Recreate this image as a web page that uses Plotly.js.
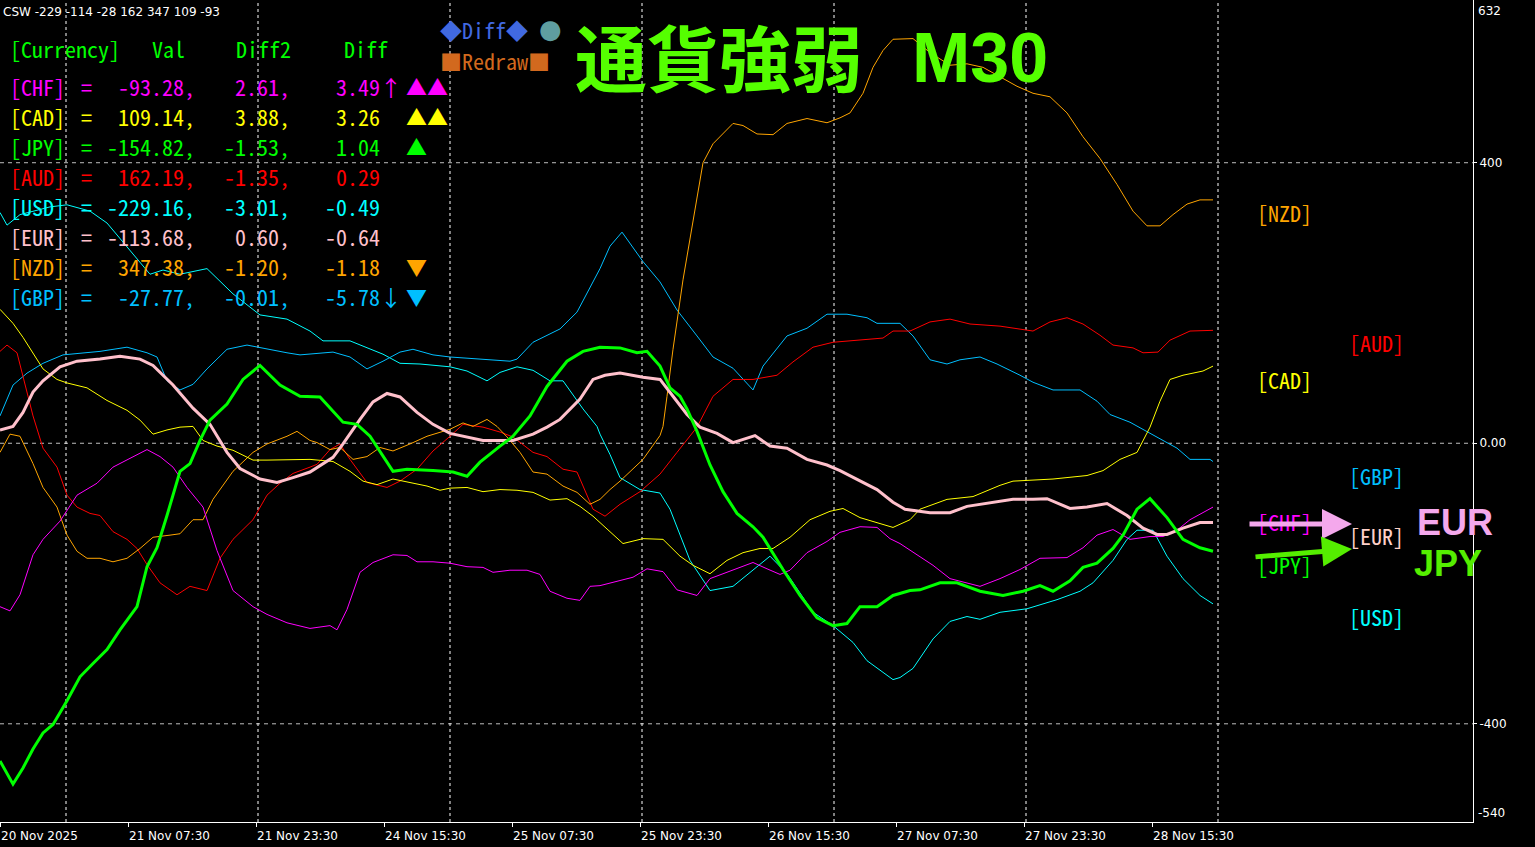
<!DOCTYPE html>
<html><head><meta charset="utf-8">
<script src="https://cdn.plot.ly/plotly-3.0.1.min.js"></script>
<style>html,body{margin:0;padding:0;background:#000;overflow:hidden}#chart{width:1535px;height:847px}</style>
</head><body><div id="chart"></div><script>
// ---- axis / tick data ----
const tickBars = [0, 32, 64, 96, 128, 160, 192, 224, 256, 288];
const tickLabels = ['20 Nov 2025','21 Nov 07:30','21 Nov 23:30','24 Nov 15:30','25 Nov 07:30','25 Nov 23:30','26 Nov 15:30','27 Nov 07:30','27 Nov 23:30','28 Nov 15:30'];
const daySeparators = [16.5, 64.5, 112.5, 160.5, 208.5, 256.5, 304.5];
const gridLevels = [400, 0, -400];
const yTickVals = [400, 0, -400];
const yTickText = ['400', '0.00', '-400'];
const yMax = 632, yMin = -540;

// ---- table data ----
const currencies = ['CHF','CAD','JPY','AUD','USD','EUR','NZD','GBP'];
const currencyColors = ['#FF00FF','#FFFF00','#00FF00','#FF0000','#00FFFF','#FFC0CB','#FFA500','#00BFFF'];
const vals  = [-93.28, 109.14, -154.82, 162.19, -229.16, -113.68, 347.38, -27.77];
const diff2 = [2.61, 3.88, -1.53, -1.35, -3.01, 0.60, -1.20, -0.01];
const diff  = [3.49, 3.26, 1.04, 0.29, -0.49, -0.64, -1.18, -5.78];
const trendArrows = ['↑','','','','','','','↓'];
const trendMarks  = ['▲▲','▲▲','▲','','','','▼','▼'];
const cswOrder = ['USD','EUR','GBP','AUD','NZD','CAD','CHF'];

// ---- series data (bar index, strength) ----
const usdBars = [0,1.75,5,12.5,16.75,22.5,26.75,33.25,37.5,40.75,45,51.75,58.25,65,71.75,77.5,80.75,87.5,95.75,100,105,112.5,116.75,121.75,125,129.25,133.25,137.5,140.75,145.75,149.25,150,152.5,155,160,165,167.5,172.5,177.5,183.25,188.25,192.5,196.75,203.25,208.25,213.25,216.75,223.25,225,228.25,233.25,237.5,241.75,245,250,256.75,264.25,270,273.25,278.25,281.75,284.25,288.25,291.75,295.75,300,303.25];
const usdVals = [329,311,326,337,340,331,314,270,241,247,241,249,213,183,177,160,146,146,127,114,113,109,103,89,101,109,104,89,89,49,24,13,-16,-49,-66,-71,-94,-167,-210,-204,-180,-161,-186,-241,-260,-284,-310,-337,-334,-321,-279,-254,-247,-251,-241,-236,-223,-211,-199,-167,-137,-124,-124,-161,-193,-217,-229];

const gbpBars = [0,3.25,6.75,10.75,15.75,20.75,25,31.75,36.75,39.25,41.75,45,48.25,51.75,56.75,61.75,66.75,71.75,75,83.25,87.5,91.75,95.75,100,103.25,108.25,112.5,120,127.5,129.25,133.25,140,144.25,150,152.5,155.5,160.75,165,169.25,174.25,178.25,183.25,186.75,188.25,190.75,196.75,201.75,206.75,211.75,216.75,219.25,225,228.25,232.5,236.75,240,245,249.25,255,258.25,263.25,270,274.25,277.5,282.5,286.75,290,294.25,297.5,302.5,303.25];
const gbpVals = [39,83,100,114,126,129,131,137,129,123,89,76,84,106,134,140,134,129,126,130,123,106,117,130,134,126,123,120,117,120,144,163,187,249,281,301,259,230,190,153,123,107,86,76,110,153,164,184,184,179,171,171,153,119,113,119,123,113,97,87,76,76,60,41,30,17,6,-7,-23,-23,-26];

const audBars = [0,1.75,4.25,6.75,8.25,10.75,14.25,16.75,19.25,22.5,25,28.25,31.75,34.25,36.75,40,44.25,47.5,51.75,55,58.25,63.25,66.75,70,73.25,77.5,79.25,82.5,85,87.5,91.75,96.75,100,104.25,108.25,112.5,115.75,120.75,125,128.25,133.25,136.75,140.75,144.25,148.25,151.25,155,160,165,169.25,174.25,178.25,183.25,188.25,194.25,198.25,203.25,208.25,215,220.75,223.25,227.5,232.5,237.5,242.5,250,258.25,262.5,266.75,270.75,275,278.25,283.25,285.75,289.5,292.5,297.5,303.25];
const audVals = [131,140,129,73,39,-7,-34,-74,-91,-100,-103,-126,-137,-150,-173,-199,-216,-204,-210,-164,-137,-109,-74,-57,-43,-34,-30,-9,-1,-23,-56,-63,-54,-37,-11,10,27,23,16,9,-13,-19,-37,-41,-94,-104,-87,-69,-44,-13,23,67,91,91,97,116,137,144,147,150,160,160,173,177,170,167,160,173,179,170,154,140,136,129,130,147,160,161];

const nzdBars = [0,2.5,5,8.25,10.75,14.25,16.75,19.25,21.75,25,28.25,31.75,35,38.25,42.5,45,48.25,50.75,53.25,58.25,63.25,66.75,71.75,74.25,77.5,79.25,82.5,85,88.25,91.75,95,98.25,102.5,106.75,112.5,115.75,118.25,121.75,124.25,126.75,130,133.25,136.75,140.75,144.25,147.5,150,152.5,155,160.75,165,165.75,166.75,168.25,170.75,173.25,175.75,178.25,180.75,183.25,185.75,189.25,193.25,196.75,201.75,206.75,210,212.5,215.75,218.25,220.75,223.25,228.25,232.5,237.5,241.75,245.75,250,254.25,258.25,262.5,266.75,270.75,275,279.25,283.25,286.75,290,293.25,296.75,300,303.25];
const nzdVals = [-13,13,10,-29,-63,-91,-131,-154,-164,-164,-169,-164,-150,-134,-131,-129,-109,-109,-80,-40,-13,-1,10,17,4,1,-9,-6,-23,-19,-6,-11,-1,10,20,29,24,34,24,9,-13,-41,-44,-61,-70,-87,-80,-66,-54,-23,11,24,67,134,233,314,400,427,441,456,453,441,440,456,463,457,464,471,499,536,560,576,577,557,539,541,536,523,509,499,494,471,437,406,369,331,310,310,326,341,347,347];

const cadBars = [0,3.25,5.75,8.25,10.75,14.25,16.75,21.75,26.75,31.75,35,38.25,41.75,45,48.25,50.75,54.25,58.25,63.25,66.75,71.75,77.5,83.25,87.5,90.75,94.25,98.25,102.5,106.75,110,112.5,116.75,120.75,125,129.25,133.25,137.5,141.75,145,148.25,151.25,155.75,160.75,165.75,170,173.25,177.5,181.75,185.75,190,193.25,197.5,202.5,207.5,210.75,215,223.25,227.5,230,236.75,243.25,250,253.25,263.25,271.75,275.75,280,284.25,287.5,290,292.5,295.75,300.75,303.25];
const cadVals = [191,171,151,129,106,91,86,79,61,47,33,13,19,23,24,4,-4,-10,-24,-24,-24,-23,-26,-40,-54,-59,-51,-56,-61,-67,-64,-63,-69,-66,-67,-70,-81,-79,-90,-104,-120,-143,-136,-137,-161,-174,-186,-167,-156,-150,-150,-134,-109,-97,-93,-106,-120,-109,-94,-80,-76,-60,-54,-51,-46,-39,-23,-13,23,60,91,97,103,110];

const chfBars = [0,2.5,5,8.25,10.75,15,19.25,24.25,28.25,33.25,36.75,40,43.25,46.75,50.75,54.25,58.25,63.25,66.75,71.75,77.5,82.5,84.25,86.75,90,93.25,98.25,101.75,104.25,108.25,112.5,116.75,120.75,123.25,127.5,131.75,135,137.5,141.75,145,147.5,150,158.25,161.75,165.75,169.25,174.25,177.5,183.25,188.25,191.75,195,197.5,201.75,206.75,210,215,219.25,222.5,225,229.25,233.25,237.5,241.75,245,250,255,260,266.75,270.75,274.25,278.25,282.5,287.5,290.75,294.25,297.5,303.25];
const chfVals = [-233,-239,-216,-159,-137,-111,-74,-57,-34,-19,-9,-19,-34,-63,-91,-153,-210,-233,-244,-256,-264,-260,-266,-237,-184,-170,-159,-160,-169,-169,-171,-176,-177,-184,-181,-181,-187,-211,-221,-224,-204,-203,-191,-179,-183,-209,-217,-193,-181,-170,-179,-187,-181,-156,-140,-127,-119,-120,-136,-143,-159,-174,-193,-199,-204,-193,-180,-164,-163,-149,-131,-123,-137,-133,-133,-124,-109,-91];

const eurBars = [0,3.25,5.75,8.25,10.75,15,19.25,25,30,35,38.25,43.25,48.25,52.5,56.75,60,65,69.25,73.25,77.5,83.25,85.75,90,93.25,96.75,100,104.25,108.25,112.5,116.75,120.75,128.25,133.25,136.75,140,145,148.25,151.25,155,160.75,165,168.25,171.75,175,179.25,183.25,186.75,188.75,192.5,196.75,201.75,206.75,210,215,219.25,223.25,226.25,232.5,237.5,241.75,246.75,253.25,258.25,261.75,267.5,271.75,276.75,281.75,285.75,289.25,291.75,295.75,300,303.25];
const eurVals = [19,24,44,73,89,109,117,120,124,120,111,83,50,27,-13,-36,-51,-56,-49,-41,-20,-1,34,59,71,66,44,27,14,9,4,4,13,23,34,63,91,97,100,94,91,67,41,23,14,1,7,11,-4,-7,-23,-31,-39,-54,-66,-84,-94,-99,-99,-90,-86,-80,-80,-79,-93,-91,-86,-103,-121,-130,-130,-121,-113,-113];

const jpyBars = [0,3.25,5.75,8.25,10.75,13.25,16.75,20,23.25,26.75,30,34.25,36.75,39.25,41.75,45,47.5,50,52.5,56.75,60.75,65,70,75,80,85.75,89.25,92.5,98.25,101.75,108.25,113.25,116.75,120,125,128.25,132.5,136.75,141.75,145.75,150,155,159.25,161.75,165,167.5,170,171.75,174.25,177.5,180.75,184.25,188.25,190.75,195.75,200,204.25,208.25,211.75,215,219.25,223.25,227.5,230,235,239.25,245,250.75,255.75,260,263.25,267.5,270.75,274.25,278.25,280.75,284.25,287.5,291.75,295.75,300,303.25];
const jpyVals = [-453,-486,-463,-436,-413,-401,-367,-333,-314,-294,-266,-233,-176,-149,-103,-40,-29,4,33,56,91,111,83,67,66,30,27,10,-40,-37,-39,-41,-47,-27,-4,10,39,81,117,131,137,136,129,131,110,79,67,49,17,-31,-69,-100,-119,-134,-180,-217,-249,-260,-257,-233,-233,-217,-210,-209,-199,-199,-211,-217,-211,-203,-211,-196,-177,-171,-150,-131,-94,-79,-106,-137,-149,-154];

const series = [
  {name:'USD', x:usdBars, y:usdVals, color:'#00FFFF', width:1},
  {name:'GBP', x:gbpBars, y:gbpVals, color:'#00BFFF', width:1},
  {name:'AUD', x:audBars, y:audVals, color:'#FF0000', width:1},
  {name:'NZD', x:nzdBars, y:nzdVals, color:'#FFA500', width:1},
  {name:'CAD', x:cadBars, y:cadVals, color:'#FFFF00', width:1},
  {name:'CHF', x:chfBars, y:chfVals, color:'#FF00FF', width:1},
  {name:'EUR', x:eurBars, y:eurVals, color:'#FFC0CB', width:3},
  {name:'JPY', x:jpyBars, y:jpyVals, color:'#00FF00', width:3}
];

const traces = series.map(s => ({
  type:'scatter', mode:'lines', name:s.name, x:s.x, y:s.y,
  line:{color:s.color, width:s.width, shape:'linear'}, hoverinfo:'skip', showlegend:false
}));

// ---- layout helpers (pixel -> paper) ----
const PW = 1473, PH = 822;
const px = v => v / PW;
const py = v => 1 - v / PH;
const mono = 'Noto Sans Mono CJK JP, Noto Sans CJK JP, DejaVu Sans Mono, monospace';
const ann = [];
function txt(text, x, y, color, size, anchor, family, weight) {
  ann.push({text:text, xref:'paper', yref:'paper', x:px(x), y:py(y),
    xanchor:anchor||'left', yanchor:'middle', showarrow:false, borderpad:0,
    font:{family:family||mono, size:size||22, color:color, weight:weight||400}});
}

// CSW line
const cswText = 'CSW ' + cswOrder.map(c => Math.round(vals[currencies.indexOf(c)])).join(' ');
txt(cswText, 2, 12, '#FFFFFF', 12, 'left', 'DejaVu Sans');

// table header
const hdr = '#00FF00';
txt('[Currency]', 9, 48, hdr); txt('Val', 151, 48, hdr); txt('Diff2', 235, 48, hdr); txt('Diff', 343, 48, hdr);
currencies.forEach((c, i) => {
  const y = 86 + 30 * i, col = currencyColors[i];
  txt('[' + c + ']', 9, y, col);
  txt('=', 86, y, col, 22, 'center');
  txt(vals[i].toFixed(2) + ',', 196, y, col, 22, 'right');
  txt(diff2[i].toFixed(2) + ',', 291, y, col, 22, 'right');
  txt(diff[i].toFixed(2), 381, y, col, 22, 'right');
  if (trendArrows[i]) txt(trendArrows[i], 391, y, col, 22, 'center');
  if (trendMarks[i]) txt(trendMarks[i], 405, y, col, 21, 'left', mono);
});

// Diff / Redraw buttons
txt('◆Diff◆', 439, 29, '#4169E1', 22);
txt('●', 550, 29, '#5F9EA0', 26, 'center', 'DejaVu Sans');
txt('■Redraw■', 439, 60, '#D2691E', 22);

// Title
txt('通貨強弱', 574, 54, '#55FF00', 72, 'left', 'Noto Sans CJK JP', 700);
txt('M30', 911, 58, '#55FF00', 70, 'left', 'Liberation Sans', 700);

// right-hand labels
const sideLabels = [['NZD',1256,212],['AUD',1348,342],['CAD',1256,379],['GBP',1348,475],['CHF',1256,521],['EUR',1348,535],['JPY',1256,564],['USD',1348,616]];
sideLabels.forEach(([c, x, y]) => {
  const col = c === 'EUR' ? '#FFD0C8' : currencyColors[currencies.indexOf(c)];
  txt('[' + c + ']', x, y, col, 22);
});

// arrows
ann.push({xref:'paper', yref:'paper', x:px(1352), y:py(524), ax:-104, ay:0, text:'', showarrow:true,
  arrowhead:2, arrowsize:1.2, arrowwidth:5, arrowcolor:'#F4A8EC', standoff:0});
ann.push({xref:'paper', yref:'paper', x:px(1352), y:py(549), ax:-98, ay:8, text:'', showarrow:true,
  arrowhead:2, arrowsize:1.2, arrowwidth:5, arrowcolor:'#55EE00', standoff:0});
txt('EUR', 1416, 522, '#F4A8EC', 36, 'left', 'Liberation Sans', 700);
txt('JPY', 1413, 563, '#55EE00', 36, 'left', 'Liberation Sans', 700);

// y-axis end labels
ann.push({text:String(yMax), xref:'paper', yref:'paper', x:1, y:1, xanchor:'left', yanchor:'top', xshift:3, yshift:-2, showarrow:false,
  font:{family:'DejaVu Sans', size:12, color:'#FFFFFF'}});
ann.push({text:String(yMin), xref:'paper', yref:'paper', x:1, y:0, xanchor:'left', yanchor:'bottom', xshift:3, showarrow:false,
  font:{family:'DejaVu Sans', size:12, color:'#FFFFFF'}});

// grid shapes
const shapes = [];
gridLevels.forEach(v => shapes.push({type:'line', layer:'below', xref:'paper', yref:'y', x0:0, x1:1, y0:v, y1:v,
  line:{color:'#BEBEBE', width:1, dash:'4px,4px'}}));
daySeparators.forEach(b => shapes.push({type:'line', layer:'below', xref:'x', yref:'paper', x0:b, x1:b, y0:0, y1:1,
  line:{color:'#FFFFFF', width:1, dash:'3px,3px'}}));

const layout = {
  width:1535, height:847,
  margin:{l:0, r:62, t:0, b:25, pad:0},
  paper_bgcolor:'#000000', plot_bgcolor:'#000000',
  font:{family:'DejaVu Sans', size:12, color:'#FFFFFF'},
  showlegend:false,
  xaxis:{range:[0, PW/4], tickvals:tickBars, ticktext:tickLabels, ticks:'outside', ticklen:4, tickcolor:'#FFFFFF',
    ticklabelposition:'outside right', ticklabelstandoff:3, showgrid:false, zeroline:false, showline:true, linecolor:'#FFFFFF', linewidth:1,
    tickfont:{family:'DejaVu Sans', size:12, color:'#FFFFFF'}, fixedrange:true},
  yaxis:{range:[yMin, yMax], side:'right', tickvals:yTickVals, ticktext:yTickText, ticks:'outside', ticklen:3, tickcolor:'#FFFFFF',
    showgrid:false, zeroline:false, showline:true, linecolor:'#FFFFFF', linewidth:1,
    tickfont:{family:'DejaVu Sans', size:12, color:'#FFFFFF'}, fixedrange:true},
  annotations:ann, shapes:shapes
};

Plotly.newPlot('chart', traces, layout, {displayModeBar:false, staticPlot:true});
</script></body></html>
